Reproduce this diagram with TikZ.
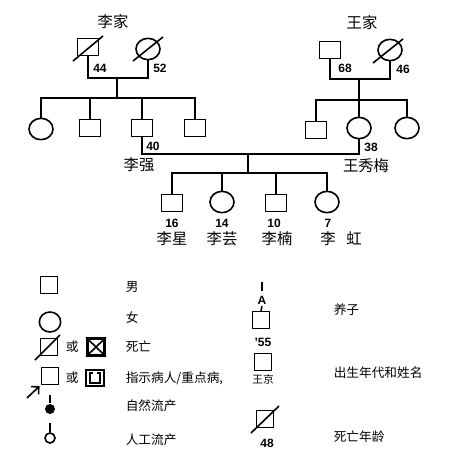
\documentclass[tikz,border=0pt]{standalone}
\usepackage{fontspec}
\setmainfont{Liberation Sans}
\newfontfamily\cjk{Noto Sans CJK SC}
\usetikzlibrary{shapes.geometric,arrows.meta}

\begin{document}
\begin{tikzpicture}[x=0.75pt,y=-0.75pt,line width=1.2pt,
    male/.style={draw,minimum width=15.5pt,minimum height=13pt,inner sep=0pt},
    female/.style={draw,ellipse,minimum width=18pt,minimum height=16pt,inner sep=0pt},
    keymale/.style={draw,minimum width=13pt,minimum height=12.5pt,inner sep=0pt},
    age/.style={font=\bfseries\fontsize{9}{9}\selectfont,inner sep=1pt},
    pname/.style={font=\cjk\fontsize{11.5}{12}\selectfont,inner sep=1pt},
    legend/.style={font=\cjk\fontsize{9.5}{10}\selectfont,anchor=west,inner sep=0pt}]
  \useasboundingbox (0,0) rectangle (452,461);

  % Li family
  \node[pname] (lijia) at (113,22) {李家};
  \node[male] (ligf) at (88,47) {};
  \node[female] (ligm) at (148,49) {};
  \draw ([shift={(-15,14)}]ligf.center) -- ([shift={(15,-11)}]ligf.center);
  \draw ([shift={(-15,12)}]ligm.center) -- ([shift={(15,-12)}]ligm.center);
  \node[age] (a44) at (100,68) {44};
  \node[age] (a52) at (160,68) {52};
  \coordinate (limar) at (117,78);
  \coordinate (lisib) at (117,98);
  \draw (ligf.south) |- (limar) -| (ligm.south);
  \draw (limar) -- (lisib);
  \node[female] (lic1) at (41,129) {};
  \node[male] (lic2) at (90,128) {};
  \node[male] (liqiang) at (142,128) {};
  \node[male] (lic4) at (195,128) {};
  \draw (lic1.north) |- (lisib) -| (lic4.north);
  \draw (lic2.north) -- (lic2.north |- lisib);
  \draw (liqiang.north) -- (liqiang.north |- lisib);

  % Wang family
  \node[pname] (wangjia) at (362,23) {王家};
  \node[male] (wgf) at (330,50) {};
  \node[female] (wgm) at (390,50) {};
  \draw ([shift={(-17,13)}]wgm.center) -- ([shift={(13,-11)}]wgm.center);
  \node[age] (a68) at (345,68) {68};
  \node[age] (a46) at (403,69) {46};
  \coordinate (wmar) at (359,79);
  \coordinate (wsib) at (359,100);
  \draw (wgf.south) |- (wmar) -| (wgm.south);
  \node[male] (wc1) at (316,130) {};
  \node[female] (wxm) at (359,128) {};
  \node[female] (wc3) at (407,128) {};
  \draw (wc1.north) |- (wsib) -| (wc3.north);
  \draw (wmar) -- (wxm.north);

  % Li Qiang and Wang Xiumei
  \node[age] (a40) at (153,146) {40};
  \node[age] (a38) at (371,147) {38};
  \node[pname] (nliqiang) at (139,165) {李强};
  \node[pname] (nwxm) at (366,166) {王秀梅};
  \coordinate (cmar) at (248,154);
  \coordinate (ksib) at (248,173);
  \draw (liqiang.south) |- (cmar) -| (wxm.south);
  \draw (cmar) -- (ksib);
  \node[male] (k1) at (172,203) {};
  \node[female] (k2) at (222,202) {};
  \node[male] (k3) at (276,203) {};
  \node[female] (k4) at (327,202) {};
  \draw (k1.north) |- (ksib) -| (k4.north);
  \draw (k2.north) -- (k2.north |- ksib);
  \draw (k3.north) -- (k3.north |- ksib);
  \node[age] (a16) at (172,223) {16};
  \node[age] (a14) at (222,223) {14};
  \node[age] (a10) at (274,223) {10};
  \node[age] (a7) at (328,223) {7};
  \node[pname] (nk1) at (172,239) {李星};
  \node[pname] (nk2) at (222,239) {李芸};
  \node[pname] (nk3) at (277,239) {李楠};
  \node[pname] (nk4) at (341,239) {李\hspace{0.7em}虹};

  % legend, left
  \node[keymale] (kmale) at (49,285) {};
  \node[legend] (tmale) at (125,287) {男};
  \node[draw,ellipse,minimum width=16pt,minimum height=15pt,inner sep=0pt] (kfem) at (50,322) {};
  \node[legend] (tfem) at (125,318) {女};
  \node[keymale] (kdead) at (49,347) {};
  \draw ([shift={(-14,13)}]kdead.center) -- ([shift={(11,-12)}]kdead.center);
  \node[legend] (tor1) at (65,347) {或};
  \node[keymale,line width=1.9pt] (kdead2) at (96,347) {};
  \draw (kdead2.north west) -- (kdead2.south east);
  \draw (kdead2.south west) -- (kdead2.north east);
  \node[legend] (tdead) at (125,347) {死亡};
  \node[keymale] (kprob) at (50,376) {};
  \node[legend] (tor2) at (65,378) {或};
  \node[keymale,line width=1.5pt] (kprob2) at (95,378) {};
  \draw ([shift={(-2,-5)}]kprob2.center) -- ++(-3,0) -- ++(0,10) -- ++(10,0) -- ++(0,-10) -- ++(-3,0);
  \node[legend] (tprob) at (125,378) {指示病人/重点病,};
  \coordinate (parrow) at (27,398);
  \draw[-{Straight Barb[length=4pt]},shorten >=1pt] (parrow) -- (kprob.south west);
  \coordinate (kspontup) at (50,395);
  \node[fill,circle,minimum size=7.5pt,inner sep=0pt] (kspont) at (50,409) {};
  \draw (kspontup) -- (kspont.north);
  \node[legend] (tspont) at (125,406) {自然流产};
  \coordinate (kindup) at (50,423);
  \node[draw,circle,minimum size=7.5pt,inner sep=0pt] (kind) at (50,438) {};
  \draw (kindup) -- (kind.north);
  \node[legend] (tind) at (125,440) {人工流产};

  % legend, right
  \coordinate (kadtop) at (262,282);
  \node[age] (kA) at (262,300) {A};
  \draw[shorten >=2pt] (kadtop) -- (kA.north);
  \node[keymale] (kadopt) at (261,320) {};
  \draw (kA.south) -- (kadopt.north);
  \node[legend] (tadopt) at (333,310) {养子};
  \node[age] (a55) at (263,342) {'55};
  \node[keymale] (kbirth) at (263,362) {};
  \node[font=\cjk\fontsize{8}{8}\selectfont,inner sep=0pt] (nwj) at (263,379) {王京};
  \node[legend] (tbirth) at (333,373) {出生年代和姓名};
  \node[keymale] (kage) at (265,419) {};
  \draw ([shift={(-14,14)}]kage.center) -- ([shift={(14,-13)}]kage.center);
  \node[age] (a48) at (267,443) {48};
  \node[legend] (tage) at (333,437) {死亡年龄};
\end{tikzpicture}
\end{document}
